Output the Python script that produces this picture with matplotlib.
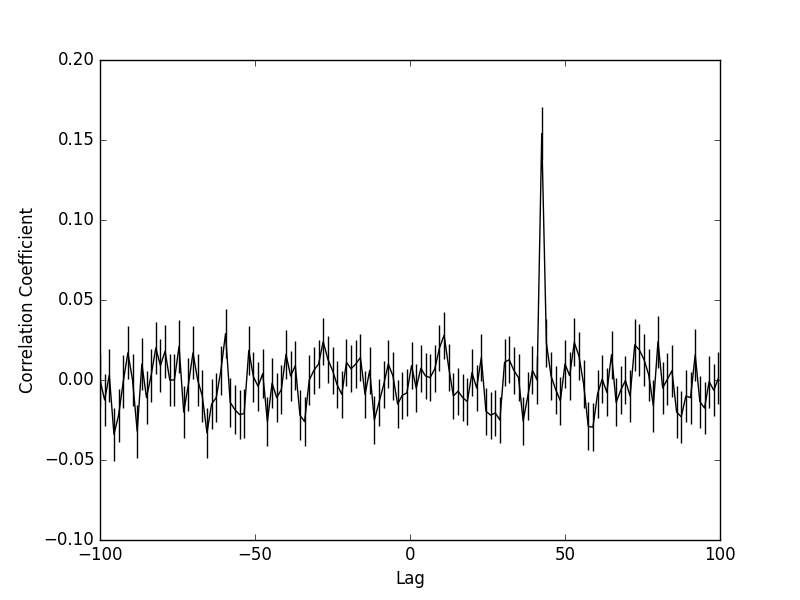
import numpy as np
from matplotlib import pyplot as plt

# lag axis: -100 .. 99.5 in steps of 1.5
lags = np.arange(-100, 100, 1.5)

corr = [
    0.0,
    -0.0125, 0.003, -0.034, -0.022, -0.001, 0.017, 0.0, -0.032, 0.010, -0.011, 0.003,
    0.020, 0.009, 0.018, 0.0, 0.0, 0.021, -0.020, -0.003, 0.017, 0.0, -0.010,
    -0.033, -0.015, -0.011, 0.006, 0.029, -0.014, -0.0185, -0.0216, -0.021, 0.0185, 0.002,
    -0.004, 0.004, -0.026, -0.002, -0.011, -0.006, 0.016, 0.0025, 0.009, -0.022, -0.026, 0.0,
    0.006, 0.010, 0.024, 0.013, 0.006, -0.003, -0.009, 0.011, 0.007, 0.010, 0.014,
    -0.009, 0.006, -0.025, -0.014, -0.003, 0.010, 0.0025, -0.015, -0.0096, -0.008, 0.009, -0.005,
    0.0073, 0.0025, 0.0015, 0.007, 0.020, 0.028, 0.0077, -0.010, -0.007, -0.011, -0.0135,
    0.0046, -0.005, 0.014, -0.0195, -0.022, -0.0206, -0.025, 0.011, 0.0127, 0.006, 0.0015,
    -0.0256, -0.010, 0.006, 0.0, 0.154, 0.023, 0.0025, -0.006, -0.013, 0.010, 0.0027,
    0.0235, 0.015, -0.0025, -0.029, -0.0295, -0.0087, 0.0006, -0.0077, 0.0158, -0.014, -0.0063, -0.0003,
    -0.010, 0.022, 0.0187, 0.0127, 0.0033, -0.016, 0.024, -0.005, 0.0004, 0.0058,
    -0.020, -0.023, -0.010, -0.011, 0.0158, -0.0135, -0.0175, -0.001, -0.0064, 0.0012,
]

corr_err = (
    [0.0165] * 23
    + [0.0155] * 23
    + [0.0148] * 23
    + [0.0146] * 22
    + [0.0150] * 4 + [0.0165] + [0.0150] * 18
    + [0.0163] * 20
)

plt.style.use("classic")

f = plt.figure(figsize=(8, 6), dpi=100)
plt.errorbar(lags, corr, yerr=corr_err, color="k", ecolor="k",
             capsize=0, linewidth=1, elinewidth=1)

plt.xlim(-100, 100)
plt.ylim(-0.1, 0.2)
plt.xticks([-100, -50, 0, 50, 100])
plt.yticks([-0.10, -0.05, 0.00, 0.05, 0.10, 0.15, 0.20])
plt.xlabel("Lag")
plt.ylabel("Correlation Coefficient")

f.savefig("out.png", dpi=100, facecolor="white")
